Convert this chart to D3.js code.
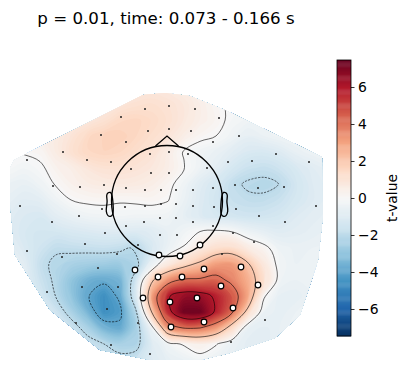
<!DOCTYPE html>
<html>
<head>
<meta charset="utf-8">
<script src="https://cdnjs.cloudflare.com/ajax/libs/d3/7.8.5/d3.min.js"></script>
<style>
  body { margin: 0; background: #fff; }
  text { font-family: "DejaVu Sans", sans-serif; fill: #000; }
</style>
</head>
<body>
<div id="panel"></div>
<script>
var title = "p = 0.01, time: 0.073 - 0.166 s";
var colorbarLabel = "t-value";
var colorTicks = [-6, -4, -2, 0, 2, 4, 6];
var contourLevels = [-6, -4, -2, 0, 2, 4, 6];
var tLimit = 7.46;

// matplotlib RdBu_r anchors
var rdbuColors = ["#053061", "#2166ac", "#4393c3", "#92c5de", "#d1e5f0", "#f7f7f7", "#fddbc7", "#f4a582", "#d6604d", "#b2182b", "#67001f"];

// t-values, rows top to bottom, 16 layout units apart
var gridX0 = -159, gridY0 = 113, gridStep = 16;
var tGrid = [
  [.3, .3, .3, .4, .5, .5, .6, .7, .8, .8, .7, .5, .3, .1, -.1, -.2, -.2, -.2, -.2, -.2, -.2],
  [.3, .3, .3, .4, .5, .6, .7, .9, 1.1, 1.2, 1.05, .8, .45, .12, -.1, -.2, -.2, -.2, -.2, -.2, -.2],
  [.3, .3, .4, .5, .6, .8, 1.1, 1.5, 1.6, 1.4, 1.15, .8, .45, .2, -.15, -.3, -.3, -.3, -.3, -.2, -.2],
  [.3, .3, .4, .6, 1, 1.5, 1.75, 1.75, 1.55, 1.25, .95, .5, .15, 0, -.35, -.7, -.5, -.3, -.3, -.3, -.3],
  [-.02, .05, .15, .6, 1.15, 1.55, 1.65, 1.55, 1.3, 1.05, .55, -.05, -.3, -.55, -.85, -1.15, -1.2, -1, -.6, -.4, -.3],
  [-.1, -.25, -.1, .3, .5, .9, 1.1, 1.1, 1, .8, .5, .05, -.4, -.8, -1.3, -1.65, -1.75, -1.55, -1.2, -.9, -.7],
  [-.5, -.6, -.35, .05, .35, .55, .65, .7, .65, .5, .2, -.35, -.9, -1.3, -1.8, -2.12, -2.18, -1.98, -1.4, -1, -.8],
  [-.7, -.9, -.8, -.35, .02, .12, .15, .06, .1, .15, .03, -.5, -1, -1.4, -1.7, -1.85, -1.85, -1.65, -1.3, -1, -.8],
  [-.9, -1.1, -1.2, -.8, -.55, -.35, -.3, -.25, -.3, -.3, -.35, -.7, -1.05, -1.3, -1.4, -1.5, -1.45, -1.3, -1, -.8, -.7],
  [-.9, -1.2, -1.4, -1.35, -1.2, -1.1, -1, -1, -1.05, -.95, -.6, -.3, .03, .15, .02, -.4, -.7, -.9, -.8, -.7, -.6],
  [-.7, -1.1, -1.5, -1.85, -1.8, -1.75, -1.7, -1.8, -2.1, -1.2, -.5, .05, .7, 1.2, 1.3, .6, .2, -.4, -.55, -.5, -.5],
  [-.4, -.8, -1.75, -2.2, -2.4, -2.55, -2.65, -2.7, -2.3, -.5, .7, 1.5, 2.2, 3.1, 3.2, 2.1, .8, -.3, -.5, -.45, -.4],
  [-.3, -.7, -1.6, -2.15, -3, -3.6, -3.8, -3.5, -1.4, 1.85, 3.4, 4.15, 4.2, 4.4, 3.7, 2.7, 1.2, -.3, -.5, -.4, -.3],
  [-.2, -.5, -1.3, -2.05, -3, -3.95, -4.6, -3.8, -1.2, 3.1, 5.9, 6.6, 6.5, 5.8, 4.7, 2.9, .1, -.7, -.7, -.5, -.3],
  [0, -.3, -.8, -1.5, -2.4, -3.5, -4.6, -4.2, -2.1, 2.1, 5.6, 7.3, 7.3, 5.8, 4.2, 1.5, -.5, -.7, -.5, -.3, -.2],
  [.1, 0, -.4, -1, -1.6, -2.4, -3.5, -3.8, -2.5, -.3, 3.3, 4.05, 4, 3.2, 1.4, -.6, -.8, -.6, -.4, -.2, 0],
  [.2, .1, -.1, -.5, -1, -1.6, -2, -2.4, -2.3, -1, -.3, .1, .45, .05, -.5, -.8, -.8, -.6, -.4, -.2, 0],
  [.2, .1, 0, -.2, -.5, -.9, -1.3, -1.7, -1.6, -1, -.7, -.5, -.3, -.5, -.7, -.7, -.6, -.4, -.3, -.1, 0]
];

// sensor layout, y up, head radius 55.5 units
var sensorX = [-22, 2, 28, -46, 52, -19, 2, 24, -66, 72, -41, 46, -104, -17, 2, 21, 109, -140, -80, -56, 61, 85, 142, -36, 40, -16, 2, -114, -87, -63, -41, -22, -6, 9, 26, 46, 68, 91, 117, -147, -88, -65, -42, -22, -6, 9, 26, 47, 69, 149, -115, -23, -7, 9, 26, 92, 118, -41, 46, -62, -7, 10, 66, -82, -29, 87, -140, -105, -50, -69, 55, -85, -49, -120, -60, -91, -29, 98, -56, 64, -17];
var sensorY = [92, 95, 92, 84, 83, 70, 72, 70, 66, 65, 59, 59, 49, 47, 49, 47, 47, 41, 41, 39, 39, 40, 39, 32, 33, 28, 28, 15, 14, 16, 13, 11, 11, 11, 11, 13, 16, 13, 14, -5, -15, -8, -6, -5, -3, -3, -5, -6, -8, -5, -21, -21, -17, -17, -21, -15, -21, -25, -25, -32, -34, -34, -32, -43, -44, -41, -50, -56, -53, -67, -53, -86, -86, -91, -108, -122, -122, -119, -144, -141, -153];
var maskX = [-32, -8, 13, 33, -9, 15, 37, 74, 91, 54, -24, 3, 30, 66, 37, 4];
var maskY = [-69, -54, -55, -44, -76, -76, -68, -66, -84, -85, -97, -101, -97, -107, -121, -126];

// edge of the interpolated field
var outlineX = [-157, -153, -24, -2, 23, 58, 155, 156, 151, 133, 108, 63, 33, -17, -67, -117, -152, -157];
var outlineY = [33, 41, 106, 108, 105, 91, 44, -14, -59, -114, -137, -152, -159, -159, -149, -109, -54, -1];

var noseX = [-11.5, 0, 11.5];
var noseY = [55, 65, 55];
var earX = [55.2, 56.6, 57.5, 58.8, 60.2, 59.9, 60.7, 59, 56.6, 54.3];
var earY = [6.2, 8.6, 8.7, 8.3, 6.2, -.6, -10.3, -14.6, -15.4, -13.3];
var headRadius = 55.5;

var width = 410, height = 374;
var svg = d3.select("#panel").append("svg")
    .attr("width", width)
    .attr("height", height)
    .style("display", "block");

var xScale = d3.scaleLinear().domain([0, 100]).range([167, 267]);
var yScale = d3.scaleLinear().domain([0, 100]).range([201, 101]);

var nCols = tGrid[0].length, nRows = tGrid.length;
var cellX = d3.scaleLinear().domain([.5, nCols - .5])
    .range([xScale(gridX0), xScale(gridX0 + gridStep * (nCols - 1))]);
var cellY = d3.scaleLinear().domain([.5, nRows - .5])
    .range([yScale(gridY0), yScale(gridY0 - gridStep * (nRows - 1))]);

var colorScale = d3.scaleLinear()
    .domain(d3.range(11).map(function(i) { return -tLimit + i * tLimit / 5; }))
    .range(rdbuColors)
    .clamp(true);

svg.append("clipPath").attr("id", "fieldClip")
  .append("path")
    .attr("d", d3.line().curve(d3.curveLinearClosed)
      .x(function(d, i) { return xScale(outlineX[i]); })
      .y(function(d, i) { return yScale(outlineY[i]); })(outlineX));

var contourGen = d3.contours().size([nCols, nRows]);
var flatGrid = d3.merge(tGrid);

var ringLine = d3.line().curve(d3.curveCatmullRomClosed.alpha(0.5))
    .x(function(d) { return cellX(d[0]); })
    .y(function(d) { return cellY(d[1]); });

// crossings bunch up where a grid value sits near the level, thin them so the curve stays round
function thinRing(ring) {
  var kept = [ring[0]];
  for (var i = 1; i < ring.length - 1; i++) {
    var last = kept[kept.length - 1];
    if (Math.hypot(ring[i][0] - last[0], ring[i][1] - last[1]) > 0.5) kept.push(ring[i]);
  }
  return kept.length > 3 ? kept : ring.slice(0, -1);
}

function contourPath(level) {
  var c = contourGen.contour(flatGrid, level);
  var d = "";
  c.coordinates.forEach(function(poly) {
    poly.forEach(function(ring) {
      d += ringLine(thinRing(ring));
    });
  });
  return d;
}

var field = svg.append("g").attr("clip-path", "url(#fieldClip)");

// filled field, painted from low to high
var fillLevels = d3.range(-tLimit, tLimit, 0.12);
field.append("rect")
    .attr("x", 0).attr("y", 0).attr("width", 340).attr("height", height)
    .attr("fill", colorScale(-tLimit));
field.selectAll("path.fill")
    .data(fillLevels)
  .enter().append("path")
    .attr("class", "fill")
    .attr("d", contourPath)
    .attr("fill", function(d) { return colorScale(d + 0.06); })
    .attr("fill-rule", "evenodd");

field.selectAll("path.iso")
    .data(contourLevels)
  .enter().append("path")
    .attr("class", "iso")
    .attr("d", contourPath)
    .attr("fill", "none")
    .attr("stroke", "#000")
    .attr("stroke-width", 0.6)
    .attr("stroke-dasharray", function(d) { return d < 0 ? "2.2,1.2" : null; });

// head
var head = svg.append("g").attr("fill", "none").attr("stroke", "#000").attr("stroke-width", 1.3);
head.append("circle")
    .attr("cx", xScale(0)).attr("cy", yScale(0))
    .attr("r", xScale(headRadius) - xScale(0));
head.append("path")
    .attr("d", d3.line()
      .x(function(d, i) { return xScale(noseX[i]); })
      .y(function(d, i) { return yScale(noseY[i]); })(noseX));
[1, -1].forEach(function(side) {
  head.append("path")
      .attr("d", d3.line().curve(d3.curveCatmullRomClosed)
        .x(function(d, i) { return xScale(side * earX[i]); })
        .y(function(d, i) { return yScale(earY[i]); })(earX));
});

svg.append("g").selectAll("circle")
    .data(sensorX)
  .enter().append("circle")
    .attr("cx", function(d) { return xScale(d); })
    .attr("cy", function(d, i) { return yScale(sensorY[i]); })
    .attr("r", 1)
    .attr("fill", "#222");

svg.append("g").selectAll("circle")
    .data(maskX)
  .enter().append("circle")
    .attr("cx", function(d) { return xScale(d); })
    .attr("cy", function(d, i) { return yScale(maskY[i]); })
    .attr("r", 2.8)
    .attr("fill", "#fff")
    .attr("stroke", "#000")
    .attr("stroke-width", 1.2);

svg.append("text")
    .attr("x", 166)
    .attr("y", 24)
    .attr("text-anchor", "middle")
    .style("font-size", "16.67px")
    .text(title);

// colorbar
var cbarScale = d3.scaleLinear().domain([-tLimit, tLimit]).range([336, 60]);
var cbar = svg.append("g");
var cbarSteps = d3.range(256).map(function(i) { return -tLimit + (i / 256) * 2 * tLimit; });
var cbarStep = 2 * tLimit / 256;
cbar.selectAll("rect")
    .data(cbarSteps)
  .enter().append("rect")
    .attr("x", 337)
    .attr("width", 14)
    .attr("y", function(d) { return cbarScale(d + cbarStep); })
    .attr("height", function(d) { return cbarScale(d) - cbarScale(d + cbarStep) + 0.4; })
    .attr("fill", function(d) { return colorScale(d + cbarStep / 2); });

var cbarAxis = d3.axisRight(cbarScale)
    .tickValues(colorTicks)
    .tickSize(3.5)
    .tickPadding(3.5)
    .tickFormat(function(d) { return d < 0 ? "\u2212" + Math.abs(d) : d; });

var cbarG = svg.append("g")
    .attr("transform", "translate(351,0)")
    .call(cbarAxis);
cbarG.select(".domain").remove();
cbarG.selectAll("line").attr("stroke", "#000").attr("stroke-width", 0.8);
cbarG.selectAll("text").style("font-size", "13.9px").style("font-family", "DejaVu Sans");

svg.append("rect")
    .attr("x", 337).attr("y", 60).attr("width", 14).attr("height", 276)
    .attr("fill", "none").attr("stroke", "#000").attr("stroke-width", 0.8);

svg.append("text")
    .attr("transform", "translate(397,198) rotate(-90)")
    .attr("text-anchor", "middle")
    .style("font-size", "13.9px")
    .text(colorbarLabel);
</script>
</body>
</html>
